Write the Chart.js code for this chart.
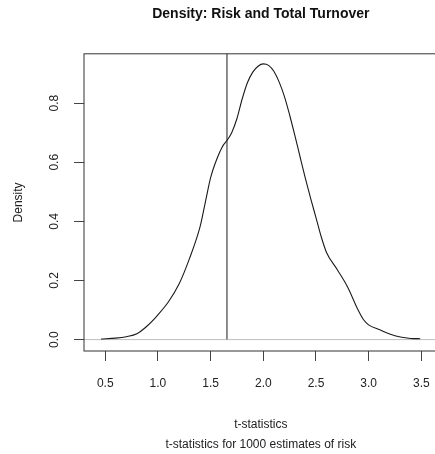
<!DOCTYPE html>
<html><head><meta charset="utf-8">
<script src="https://cdn.jsdelivr.net/npm/chart.js@4"></script>
<style>html,body{margin:0;padding:0;overflow:hidden;background:#fff;width:435px;height:454px}</style>
</head><body>
<canvas id="c" width="445" height="454" style="display:block;width:445px;height:454px"></canvas>
<script>
const chartTitle = 'Density: Risk and Total Turnover';
const yTitle = 'Density';
const xTitle = ['t-statistics', 't-statistics for 1000 estimates of risk'];
const tStats  = [0.46, 0.6, 0.7, 0.8, 0.9, 1.0, 1.1, 1.2, 1.3, 1.4, 1.45, 1.5, 1.56, 1.61, 1.66, 1.7, 1.75, 1.8, 1.85, 1.9, 1.95, 2.0, 2.05, 2.1, 2.15, 2.2, 2.25, 2.3, 2.35, 2.4, 2.45, 2.5, 2.55, 2.6, 2.7, 2.8, 2.9, 2.95, 3.0, 3.1, 3.2, 3.3, 3.4, 3.49];
const density = [0.002, 0.005, 0.010, 0.020, 0.047, 0.084, 0.128, 0.188, 0.275, 0.382, 0.465, 0.548, 0.612, 0.652, 0.676, 0.700, 0.748, 0.815, 0.870, 0.905, 0.925, 0.933, 0.928, 0.908, 0.872, 0.823, 0.760, 0.690, 0.617, 0.545, 0.477, 0.413, 0.348, 0.295, 0.238, 0.178, 0.100, 0.068, 0.050, 0.034, 0.019, 0.009, 0.004, 0.003];
const criticalValue = 1.655;
const xTicks = [0.5, 1.0, 1.5, 2.0, 2.5, 3.0, 3.5];
const yTicks = [0.0, 0.2, 0.4, 0.6, 0.8];
const xRange = [0.298, 3.655];
const yRange = [-0.0385, 0.967];

const FONT = "'Liberation Sans', Arial, sans-serif";
Chart.defaults.font.family = FONT;

const decor = {
  id: 'decor',
  beforeDatasetsDraw(chart) {
    const {ctx, chartArea: a, scales: {y}} = chart;
    const y0 = y.getPixelForValue(0);
    ctx.save();
    ctx.strokeStyle = '#bebebe';
    ctx.lineWidth = 1;
    ctx.beginPath();
    ctx.moveTo(a.left, y0); ctx.lineTo(a.right, y0);
    ctx.stroke();
    ctx.restore();
  },
  afterDraw(chart) {
    const {ctx, chartArea: a, scales: {y}} = chart;
    ctx.save();
    ctx.strokeStyle = '#333';
    ctx.lineWidth = 1;
    ctx.strokeRect(a.left, a.top, a.right - a.left, a.bottom - a.top);
    ctx.fillStyle = '#222';
    ctx.font = '12px ' + FONT;
    ctx.textAlign = 'center';
    ctx.textBaseline = 'middle';
    y.ticks.forEach(t => {
      const py = y.getPixelForValue(t.value);
      ctx.save();
      ctx.translate(55, py);
      ctx.rotate(-Math.PI / 2);
      ctx.fillText(t.value.toFixed(1), 0, 0);
      ctx.restore();
    });
    ctx.restore();
  }
};

new Chart(document.getElementById('c'), {
  type: 'line',
  data: {
    datasets: [
      {
        data: tStats.map((x, i) => ({x, y: density[i]})),
        borderColor: '#1a1a1a', borderWidth: 1.1, pointRadius: 0,
        cubicInterpolationMode: 'monotone', fill: false
      },
      {
        data: [{x: criticalValue, y: 0}, {x: criticalValue, y: yRange[1] + 0.1}],
        borderColor: '#707070', borderWidth: 1.6, pointRadius: 0, clip: 0, fill: false
      }
    ]
  },
  options: {
    responsive: false, animation: false, devicePixelRatio: 1,
    layout: {padding: {left: 0, right: 5, top: 0, bottom: 0}},
    plugins: {
      legend: {display: false}, tooltip: {enabled: false},
      title: {
        display: true, text: chartTitle, fullSize: false, color: '#111',
        font: {family: FONT, size: 14, weight: 'bold', lineHeight: 1.2},
        padding: {top: 6, bottom: 31}
      }
    },
    scales: {
      x: {
        type: 'linear', min: xRange[0], max: xRange[1],
        afterBuildTicks: s => { s.ticks = xTicks.map(v => ({value: v})); },
        afterFit: s => { s.height = 103; },
        ticks: {color: '#222', font: {size: 12}, padding: 15, maxRotation: 0, autoSkip: false,
                callback: v => Number(v).toFixed(1)},
        grid: {display: true, drawOnChartArea: false, drawTicks: true, tickLength: 10, color: '#444', lineWidth: 1},
        border: {display: false},
        title: {display: true, text: xTitle, color: '#222', font: {size: 12, lineHeight: 20 / 12}, padding: {top: 0, bottom: -1}}
      },
      y: {
        type: 'linear', min: yRange[0], max: yRange[1],
        afterBuildTicks: s => { s.ticks = yTicks.map(v => ({value: v})); },
        afterFit: s => { s.width = 84; },
        ticks: {display: false},
        grid: {display: true, drawOnChartArea: false, drawTicks: true, tickLength: 10, color: '#444', lineWidth: 1},
        border: {display: false},
        title: {display: true, text: yTitle, color: '#222', font: {size: 12, lineHeight: 1.2}, padding: {top: 11, bottom: 0}}
      }
    }
  },
  plugins: [decor]
});
</script>
</body></html>
